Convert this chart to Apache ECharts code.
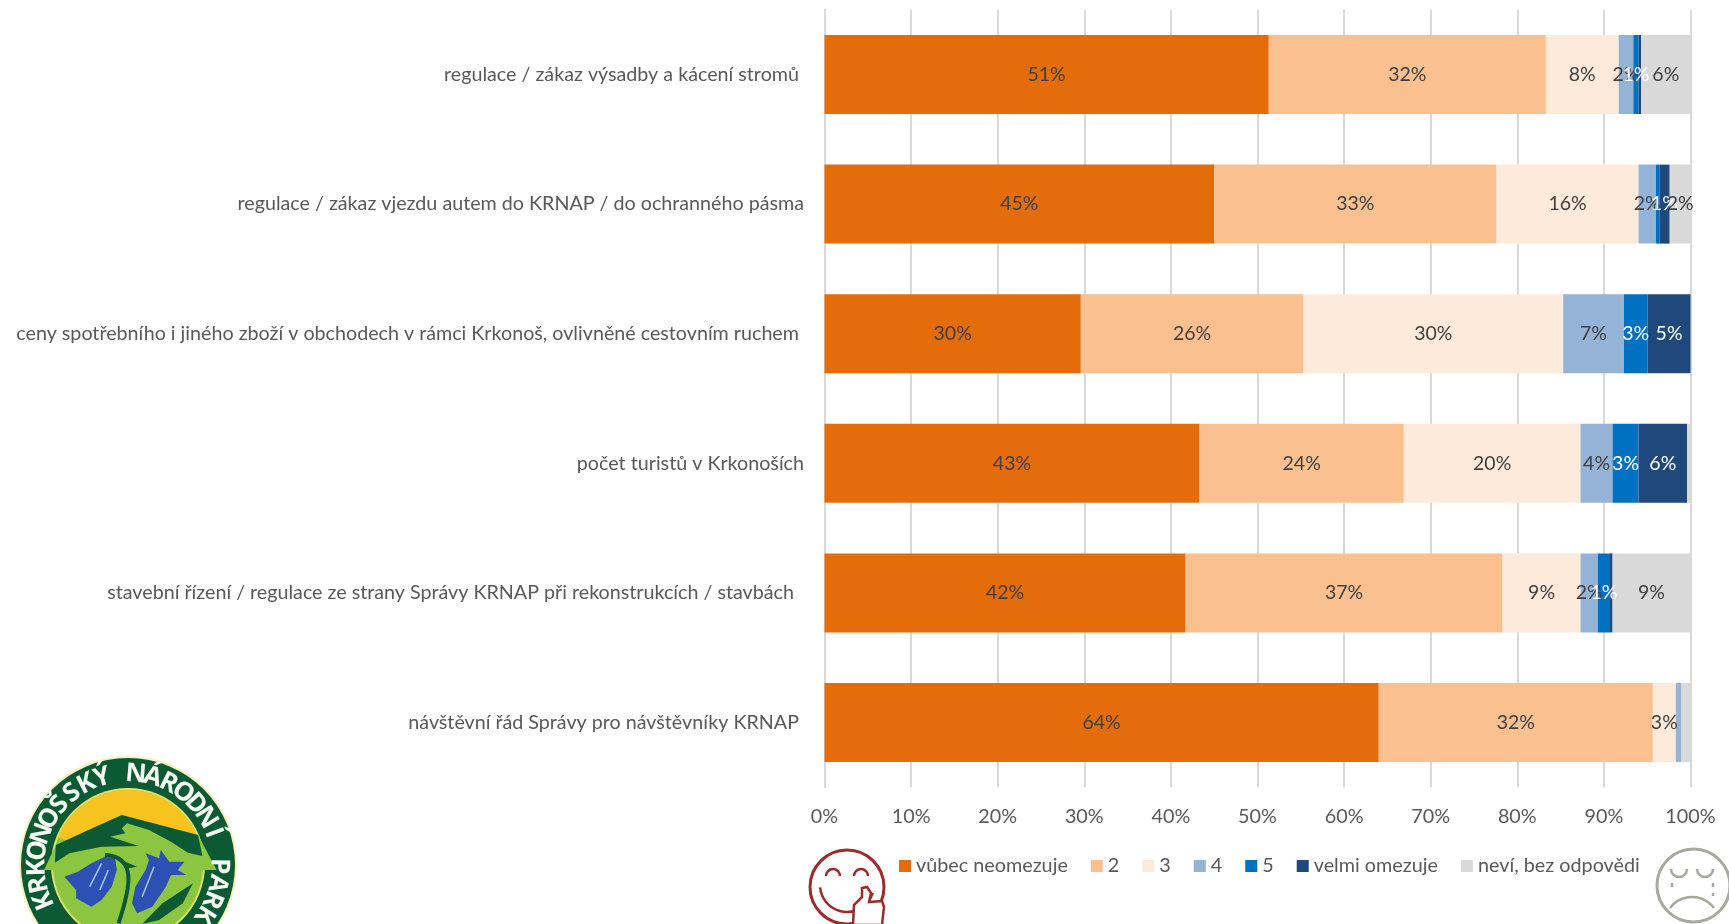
<!DOCTYPE html>
<html><head><meta charset="utf-8">
<style>html,body{margin:0;padding:0;background:#fff;overflow:hidden}#c{width:1729px;height:924px}</style>
<script src="https://cdn.jsdelivr.net/npm/echarts@6/dist/echarts.min.js"></script>
</head><body><div id="c"></div>
<script>
const categories = [
  "regulace / zákaz výsadby a kácení stromů ",
  "regulace / zákaz vjezdu autem do KRNAP / do ochranného pásma",
  "ceny spotřebního i jiného zboží v obchodech v rámci Krkonoš, ovlivněné cestovním ruchem ",
  "počet turistů v Krkonoších",
  "stavební řízení / regulace ze strany Správy KRNAP při rekonstrukcích / stavbách  ",
  "návštěvní řád Správy pro návštěvníky KRNAP "
];
const seriesNames = ["vůbec neomezuje","2","3","4","5","velmi omezuje","neví, bez odpovědi"];
const v1 = [51.3,45.0,29.6,43.3,41.7,64.0];
const v2 = [32.0,32.6,25.7,23.6,36.6,31.65];
const v3 = [8.4,16.4,30.0,20.4,9.0,2.65];
const v4 = [1.7,2.0,7.0,3.7,2.0,0.6];
const v5 = [0.6,0.4,2.75,3.0,1.4,0];
const v6 = [0.3,1.2,4.95,5.6,0.3,0];
const v7 = [5.7,2.4,0,0.4,9.0,1.1];
const l1 = ["51%","45%","30%","43%","42%","64%"];
const l2 = ["32%","33%","26%","24%","37%","32%"];
const l3 = ["8%","16%","30%","20%","9%","3%"];
const l4 = ["2%","2%","7%","4%","2%",""];
const l5 = ["1%","","3%","3%","1%",""];
const l6 = ["","1%","5%","6%","",""];
const l7 = ["6%","2%","","","9%",""];
const colors = ["#E46C0A","#FAC090","#FDEADA","#95B3D7","#0070C0","#1F497D","#D9D9D9"];
const labelColors = ["#404040","#404040","#404040","#404040","#fff","#fff","#404040"];
const values = [v1,v2,v3,v4,v5,v6,v7];
const labels = [l1,l2,l3,l4,l5,l6,l7];
const tickLabels = ["0%","10%","20%","30%","40%","50%","60%","70%","80%","90%","100%"];
const FONT = "Lato";

function logo(){
  const cx=128, cy=865, out=[];
  const dk="#0C5A33", lg="#8CC540", bl="#2C50B4";
  const Z=(a)=>a.map(p=>[p[0]/2.954,730+p[1]/3]);
  const poly=(pts,fill)=>out.push({type:'polygon',shape:{points:Z(pts),smooth:0},style:{fill}});
  out.push({type:'circle',shape:{cx,cy,r:109},style:{fill:'#F6F2B8'}});
  out.push({type:'circle',shape:{cx,cy,r:107},style:{fill:dk}});
  out.push({type:'circle',shape:{cx,cy,r:77},style:{fill:'#DDE070'}});
  out.push({type:'circle',shape:{cx,cy,r:75},style:{fill:lg}});
  // yellow sky: sector of the inner disc above the ridge
  out.push({type:'sector',shape:{cx,cy,r:75,r0:0,startAngle:Math.PI*1.12,endAngle:Math.PI*1.88},style:{fill:'#F7C31E'}});
  poly([[130,420],[165,345],[250,305],[360,255],[585,315],[640,420]],lg);
  // mountain
  poly([[165,345],[250,305],[360,255],[585,315],[598,378],[555,368],[505,335],[440,300],[375,280],[360,295],[370,310],[325,320],[410,348],[300,350],[205,370],[162,398]],dk);
  // bell flowers
  poly([[310,380],[340,385],[345,420],[330,470],[300,510],[270,530],[225,505],[225,480],[190,440],[230,425],[270,400]],bl);
  poly([[430,370],[470,385],[475,360],[500,395],[545,395],[525,420],[550,435],[505,435],[490,470],[450,530],[405,550],[390,520],[400,470],[430,420],[440,390]],bl);
  // petal highlights
  [[[300,400],[265,470]],[[320,420],[295,480]],[[455,410],[420,500]]].forEach(s=>{
    const p=Z(s);out.push({type:'line',shape:{x1:p[0][0],y1:p[0][1],x2:p[1][0],y2:p[1][1]},style:{stroke:'#A9C8E8',lineWidth:1.5}});
  });
  // stem and leaves
  const q=Z([[310,375],[400,380],[390,460],[340,520],[350,580]]);
  out.push({type:'bezierCurve',shape:{x1:q[0][0],y1:q[0][1],cpx1:q[1][0],cpy1:q[1][1],cpx2:q[2][0],cpy2:q[2][1],x2:q[4][0],y2:q[4][1]},style:{stroke:dk,fill:null,lineWidth:4}});
  poly([[370,395],[405,410],[380,415]],dk);
  poly([[570,460],[540,520],[470,570],[420,582],[480,520]],dk);
  // ring lettering
  const txt="KRKONOŠSKÝ NÁRODNÍ PARK", a0=-113, a1=123;
  [...txt].forEach((ch,i)=>{
    if(ch===' ')return;
    const a=(a0+(a1-a0)*i/(txt.length-1))*Math.PI/180, r=91;
    out.push({type:'text',x:cx+r*Math.sin(a),y:cy-r*Math.cos(a),rotation:-a,
      style:{text:ch,fill:'#F4F8F0',font:'700 26px "Open Sans"',align:'center',verticalAlign:'middle'}});
  });
  return out;
}
function happy(){
  const c="#9E2B2B", s=(o)=>Object.assign({fill:null,stroke:c,lineWidth:2.5},o||{}), cx=847, cy=887;
  return [
    {type:'circle',shape:{cx,cy,r:37},style:s({lineWidth:3})},
    {type:'arc',shape:{cx:833,cy:876,r:7,startAngle:Math.PI,endAngle:2*Math.PI},style:s()},
    {type:'arc',shape:{cx:861,cy:876,r:7,startAngle:Math.PI,endAngle:2*Math.PI},style:s()},
    {type:'arc',shape:{cx:847,cy:885,r:27,startAngle:0.3,endAngle:3.05},style:s()},
    {type:'polygon',shape:{points:[[853,925],[854,905],[862,897],[862,888],[867,887],[871,893],[869,902],[882,901],[884,907],[882,925]]},style:{fill:'#fff',stroke:c,lineWidth:2.5}}
  ];
}
function sad(){
  const c="#A9A89E", s=(o)=>Object.assign({fill:null,stroke:c,lineWidth:2.5},o||{}), cx=1693.5, cy=885.5;
  return [
    {type:'circle',shape:{cx,cy,r:36.5},style:s({lineWidth:3})},
    {type:'arc',shape:{cx:1679,cy:869,r:8,startAngle:0,endAngle:Math.PI},style:s()},
    {type:'arc',shape:{cx:1705,cy:869,r:8,startAngle:0,endAngle:Math.PI},style:s()},
    {type:'line',shape:{x1:1672,y1:883,x2:1672,y2:887},style:s()},
    {type:'line',shape:{x1:1713,y1:883,x2:1713,y2:887},style:s()},
    {type:'line',shape:{x1:1713,y1:893,x2:1713,y2:896},style:s()},
    {type:'arc',shape:{cx:1692,cy:924.5,r:27.5,startAngle:Math.PI*1.5-0.925,endAngle:Math.PI*1.5+0.925},style:s()}
  ];
}
const chart = echarts.init(document.getElementById('c'),null,{renderer:'canvas'});
chart.setOption({
  animation:false,
  textStyle:{fontFamily:FONT},
  grid:{left:824.5,right:38.5,top:9.7,height:777.6,containLabel:false},
  legend:{left:899,top:856,padding:0,itemWidth:12,itemHeight:12,itemGap:23,icon:'rect',
    data:seriesNames,textStyle:{fontFamily:FONT,fontSize:19.8,color:'#595959'}},
  xAxis:{type:'value',min:0,max:100,interval:10,
    axisLabel:{fontFamily:FONT,fontSize:19.8,color:'#595959',margin:19,
      formatter:(v)=>tickLabels[Math.round(v/10)]},
    axisLine:{show:false},axisTick:{show:false},
    splitLine:{show:true,lineStyle:{color:'#D9D9D9',width:2}}},
  yAxis:{type:'category',inverse:true,data:categories,
    axisLabel:{fontFamily:FONT,fontSize:19.7,color:'#595959',margin:20.5,align:'right',padding:[3,0,0,0]},
    axisLine:{show:true,lineStyle:{color:'#D9D9D9',width:2}},axisTick:{show:false},splitLine:{show:false}},
  series:seriesNames.map((n,i)=>({
    name:n,type:'bar',stack:'all',barWidth:79,
    itemStyle:{color:colors[i]},
    label:{show:true,position:'inside',offset:[0,3],fontFamily:FONT,fontSize:19.5,color:labelColors[i],
      formatter:(p)=>labels[i][p.dataIndex]},
    labelLayout:{hideOverlap:false},
    data:values[i]
  })),
  graphic:[...logo(),...happy(),...sad()]
});
</script></body></html>
